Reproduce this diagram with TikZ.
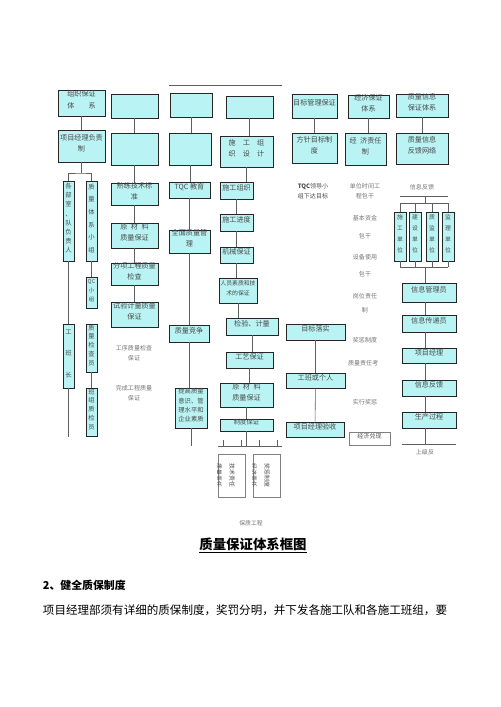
\documentclass[tikz,border=0pt]{standalone}
\usepackage{fontspec}
\setmainfont{Noto Sans CJK SC}
\usetikzlibrary{fit}
\definecolor{boxfill}{RGB}{185,243,243}
\definecolor{linegray}{RGB}{95,95,95}
\definecolor{textgray}{RGB}{75,75,75}
\definecolor{notegray}{RGB}{115,115,115}

\begin{document}
\begin{tikzpicture}[x=0.042cm,y=-0.042cm] % pixel units, y downwards
	\tikzset{
		qbox/.style={draw=black!85, line width=0.7pt, fill=boxfill, inner sep=0pt, align=center, text=textgray, font=\fontsize{8.5}{13}\selectfont},
		vbox/.style={qbox, font=\fontsize{7.5}{11}\selectfont},
		wbox/.style={draw=gray, line width=0.4pt, fill=white, inner sep=0pt},
		conn/.style={draw=linegray, line width=0.7pt},
		note/.style={text=notegray, align=center, inner sep=0pt, font=\fontsize{7.2}{12}\selectfont}
	}
	\useasboundingbox (0,0) rectangle (500,707);
	
	% Top line
	\coordinate (ta) at (169,85);
	\coordinate (tb) at (282,85);
	\draw[conn] (ta) -- (tb);
	
	% First column
	\node[qbox, fit={(58,90) (105,116)}, font=\fontsize{8.5}{15}\selectfont] (zz1) {组织保证\\体\quad\quad 系};
	\node[qbox, fit={(58,130) (105,162)}] (xm1) {项目经理负责\\制};
	\node[vbox, fit={(63,181) (74,261)}] (bs) {各\\部\\室\\、\\队\\负\\责\\人};
	\node[vbox, fit={(86,181) (97,261)}, font=\fontsize{7.5}{15}\selectfont] (zt) {质\\量\\体\\系\\小\\组};
	\node[vbox, fit={(86,277) (97,308)}, font=\fontsize{6.5}{11}\selectfont] (qc) {QC\\小\\组};
	\node[vbox, fit={(63,324) (74,388)}, font=\fontsize{7.5}{26}\selectfont] (gb) {工\\班\\长};
	\node[vbox, fit={(86,324) (97,372)}, font=\fontsize{7.5}{10.5}\selectfont] (zj) {质\\量\\检\\查\\员};
	\node[vbox, fit={(86,388) (97,436)}, font=\fontsize{7.5}{10.5}\selectfont] (bz) {班\\组\\质\\检\\员};
	\coordinate (f1) at (81.5,173);
	\coordinate (e1) at (68.5,437);
	\draw[conn] (zz1) -- (xm1);
	\draw[conn] (xm1) -- (f1);
	\draw[conn] (bs.north) |- (f1) -| (zt.north);
	\draw[conn] (bs) -- (gb);
	\draw[conn] (gb) -- (e1);
	\draw[conn] (zt) -- (qc);
	\draw[conn] (zj) -- (bz);
	
	% Second column
	\node[qbox, fit={(111,94) (158,118)}] (k1) {};
	\node[qbox, fit={(111,133) (158,165)}] (k2) {};
	\node[qbox, fit={(111,183) (158,205)}] (sl) {熟练技术标\\准};
	\node[qbox, fit={(111,223) (158,248)}] (yc) {原\enspace 材\enspace 料\\质量保证};
	\node[qbox, fit={(111,263) (158,285)}] (fx) {分项工程质量\\检查};
	\node[qbox, fit={(111,302) (158,327)}] (sy) {试验计量质量\\保证};
	\node[note] (gx) at (134,353) {工序质量检查\\保证};
	\node[note] (wc) at (134,393) {完成工程质量\\保证};
	\foreach \a/\b in {k1/k2, k2/sl, sl/yc, yc/fx, fx/sy}
	{
		\draw[conn] (\a) -- (\b);
	}
	
	% Third column
	\node[qbox, fit={(170,93) (212,117)}] (t1) {};
	\node[qbox, fit={(169,133) (211,165)}] (t2) {};
	\node[qbox, fit={(169,182) (210,198)}] (tq) {TQC 教育};
	\node[qbox, fit={(169,230) (210,253)}] (qm) {全面质量管\\理};
	\node[qbox, fit={(169,325) (209,342)}] (jz) {质量竞争};
	\node[qbox, fit={(175,388) (207,428)}, font=\fontsize{7.5}{11}\selectfont] (tg) {提高质量\\意识、管\\理水平和\\企业素质};
	\coordinate (e3) at (191,446);
	\foreach \a/\b in {t1/t2, t2/tq, tq/qm, qm/jz, jz/tg}
	{
		\draw[conn] (\a.south) -- (\a.south |- \b.north);
	}
	\draw[conn] (tg.south) -- (tg.south |- e3);
	
	% Fourth column
	\node[qbox, fit={(226,96) (273,118)}] (s1) {};
	\node[qbox, fit={(220,136) (273,167)}] (sz) {施\quad 工\quad 组\\织\quad 设\quad 计};
	\node[qbox, fit={(220,182) (253,199)}] (sg) {施工组织};
	\node[qbox, fit={(220,214) (253,231)}] (jd) {施工进度};
	\node[qbox, fit={(220,247) (253,263)}] (jx) {机械保证};
	\node[qbox, fit={(219,278) (257,303)}, font=\fontsize{7}{12}\selectfont] (ry) {人员素质和技\\术的保证};
	\node[qbox, fit={(226,318) (278,335)}] (jy) {检验、计量};
	\node[qbox, fit={(226,352) (273,368)}] (gy) {工艺保证};
	\node[qbox, fit={(220,383) (273,407)}] (yl) {原\enspace 材\enspace 料\\质量保证};
	\node[qbox, fit={(220,419) (273,431)}, font=\fontsize{7.5}{10}\selectfont] (zd) {制度保证};
	\foreach \a/\b in {s1/sz, sz/sg, sg/jd, jd/jx, jx/ry, ry/jy, jy/gy, gy/yl, yl/zd}
	{
		\draw[conn] (\a.south) -- (\a.south |- \b.north);
	}
	\coordinate (h4l) at (218,446);
	\coordinate (h4r) at (282,446);
	\draw[conn] (zd.south) -- (zd.south |- h4l);
	\draw[conn] (h4l) -- (h4r);
	\foreach \x in {223,241,259,277}
	{
		\draw[conn] (\x,440) -- (\x,446); % small ticks
	}
	
	% Boxes under the fourth column
	\node[wbox, fit={(218,454) (245,497)}] (bx1) {};
	\node[wbox, fit={(253,454) (280,497)}] (bx2) {};
	\begin{scope}
		\clip (bx1.south west) rectangle (bx1.north east);
		\node[note, rotate=-90, text=textgray, font=\fontsize{7}{15.5}\selectfont] (bt1) at (225.5,475.5) {技术责任\\质量责任};
	\end{scope}
	\begin{scope}
		\clip (bx2.south west) rectangle (bx2.north east);
		\node[note, rotate=-90, text=textgray, font=\fontsize{7}{15.5}\selectfont] (bt2) at (260.5,475.5) {奖惩制度\\经济责任};
	\end{scope}
	
	% Fifth column
	\node[qbox, fit={(292,94) (337,118)}] (mb) {目标管理保证};
	\node[qbox, fit={(292,133) (337,163)}] (fz) {方针目标制\\度};
	\node[note, text=textgray] (tqc) at (313,191) {\textbf{TQC}领导小\\组下达目标};
	\node[qbox, fit={(286,324) (345,340)}] (lx) {目标落实};
	\node[qbox, fit={(286,373) (345,388)}] (gr) {工班或个人};
	\node[qbox, fit={(286,422) (344,437)}] (ys) {项目经理验收};
	\draw[conn] (mb) -- (fz);
	\draw[conn] (lx) -- (gr);
	\draw[conn] (gr) -- (ys);
	
	% Sixth column
	\node[qbox, fit={(348,95) (389,118)}] (jj) {经济保证\\体系};
	\node[qbox, fit={(345,133) (386,165)}] (zr) {经\enspace 济责任\\制};
	\draw[conn] (jj.south) -- (jj.south |- zr.north);
	\node[note] (n1) at (365,191) {单位时间工\\程包干};
	\node[note, font=\fontsize{7.2}{21}\selectfont] (n2) at (365,227) {基本资金\\包干};
	\node[note, font=\fontsize{7.2}{20}\selectfont] (n3) at (365,265.5) {设备使用\\包干};
	\node[note, font=\fontsize{7.2}{16.5}\selectfont] (n4) at (365,303) {岗位责任\\制};
	\node[note] (n5) at (365,340) {奖惩制度};
	\node[note, anchor=west] (n6) at (348,363) {质量责任考};
	\node[note] (n7) at (365,402) {实行奖惩};
	\node[wbox, fit={(349,432) (390,445)}, text=textgray, font=\fontsize{7.2}{9}\selectfont] (dx) {经济兑现};
	
	% Seventh column
	\node[qbox, fit={(396,94) (448,117)}] (xb) {质量信息\\保证体系};
	\node[qbox, fit={(396,133) (448,164)}] (fk) {质量信息\\反馈网络};
	\draw[conn] (xb) -- (fk);
	\node[note] (xx) at (422,187) {信息反馈};
	\node[vbox, fit={(394,212) (406,261)}, font=\fontsize{7}{13}\selectfont] (u1) {施\\工\\单\\位};
	\node[vbox, fit={(409,212) (421,261)}, font=\fontsize{7}{13}\selectfont] (u2) {建\\设\\单\\位};
	\node[vbox, fit={(426,212) (438,261)}, font=\fontsize{7}{13}\selectfont] (u3) {质\\监\\单\\位};
	\node[vbox, fit={(442,212) (454,261)}, font=\fontsize{7}{13}\selectfont] (u4) {监\\理\\单\\位};
	\coordinate (fa) at (425,196);
	\coordinate (fb) at (425,203);
	\coordinate (fc) at (425,267);
	\draw[conn] (u1.north |- fa) -- (u4.north |- fa);
	\draw[conn] (fa) -- (fb);
	\draw[conn] (u1.north |- fb) -- (u4.north |- fb);
	\foreach \u in {u1,u2,u3,u4}
	{
		\draw[conn] (\u.north |- fb) -- (\u.north);
		\draw[conn] (\u.south) -- (\u.south |- fc);
	}
	\draw[conn] (u1.south |- fc) -- (u4.south |- fc);
	\node[qbox, fit={(402,283) (456,302)}] (gl) {信息管理员};
	\node[qbox, fit={(402,315) (456,332)}] (cd) {信息传递员};
	\node[qbox, fit={(402,348) (456,363)}] (xj) {项目经理};
	\node[qbox, fit={(402,380) (456,396)}] (xf) {信息反馈};
	\node[qbox, fit={(402,412) (456,428)}] (sc) {生产过程};
	\draw[conn] (fc) -- (fc |- gl.north);
	\foreach \a/\b in {gl/cd, cd/xj, xj/xf, xf/sc}
	{
		\draw[conn] (fc |- \a.south) -- (fc |- \b.north);
	}
	\coordinate (fd) at (425,444);
	\draw[conn] (fc |- sc.south) -- (fd);
	\draw[conn] (gl.west |- fd) -- (gl.east |- fd);
	\node[note] (sj) at (425,452) {上级反};
	
	% Caption and text below
	\node[text=notegray, font=\fontsize{7}{9}\selectfont] (bzgc) at (251,523) {保质工程};
	\node[font=\fontsize{16}{18}\selectfont\bfseries] (title) at (253,545) {\underline{质量保证体系框图}};
	\node[anchor=west, font=\fontsize{13}{15}\selectfont\bfseries] (sec) at (40,585) {2、健全质保制度};
	\node[anchor=west, font=\fontsize{13.8}{16}\selectfont] (body) at (40,610) {项目经理部须有详细的质保制度，奖罚分明，并下发各施工队和各施工班组，要};
	
\end{tikzpicture}
\end{document}
